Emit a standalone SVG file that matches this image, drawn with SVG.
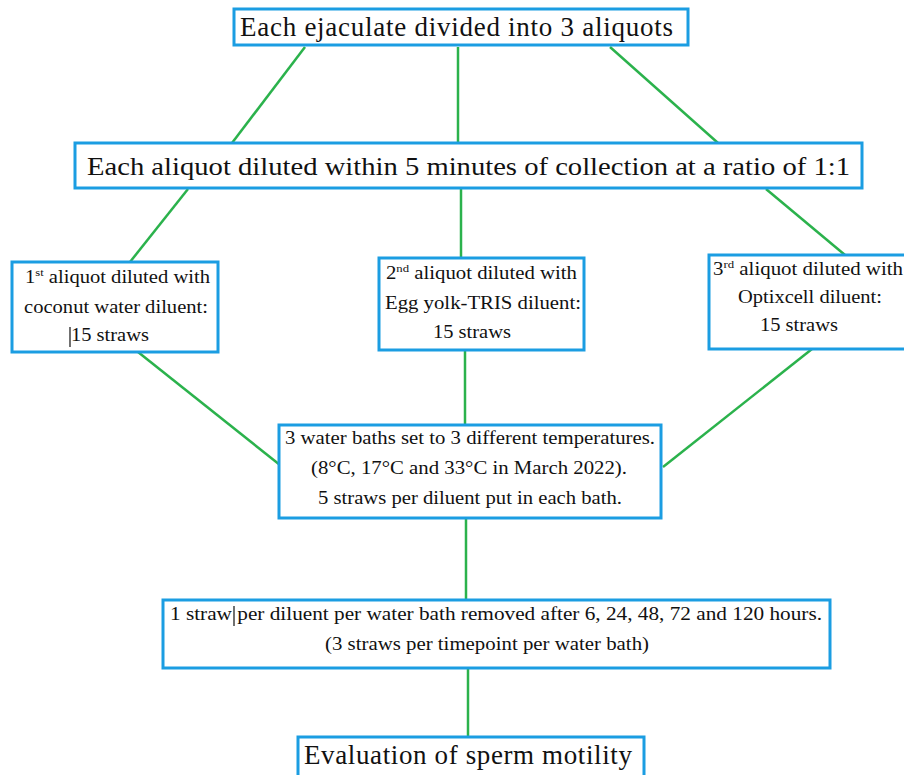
<svg xmlns="http://www.w3.org/2000/svg" width="904" height="775" viewBox="0 0 904 775">
<style>
.box{fill:#fff;stroke:#1b9de2;stroke-width:3}
.c{stroke:#2bb24c;stroke-width:2.5;fill:none}
text{fill:#111}
.s{font-size:18px}
.m{font-size:25px}
.l{font-size:27px}
.sup{font-size:11px}
.cur{stroke:#111;stroke-width:1.2}
</style>
<rect width="904" height="775" fill="#fff"/>
<g id="connectors">
<line class="c" x1="305" y1="47" x2="232" y2="143"/>
<line class="c" x1="458" y1="47" x2="458" y2="143"/>
<line class="c" x1="610" y1="47" x2="718" y2="143"/>
<line class="c" x1="188" y1="189" x2="130" y2="262"/>
<line class="c" x1="461" y1="189" x2="461" y2="258"/>
<line class="c" x1="766" y1="189" x2="845" y2="255"/>
<line class="c" x1="138" y1="352" x2="280" y2="465"/>
<line class="c" x1="465" y1="350" x2="465" y2="425"/>
<line class="c" x1="812" y1="349" x2="663" y2="467"/>
<line class="c" x1="466" y1="518" x2="466" y2="600"/>
<line class="c" x1="468" y1="668" x2="468" y2="737"/>
</g>
<g font-family="Liberation Serif, Times New Roman, serif">
<g id="n1">
<rect class="box" x="234" y="9" width="454" height="36"/>
<text class="l" x="240" y="36" textLength="433" lengthAdjust="spacing">Each ejaculate divided into 3 aliquots</text>
</g>
<g id="n2">
<rect class="box" x="75" y="143" width="787" height="45"/>
<text class="m" x="87" y="175" textLength="763" lengthAdjust="spacingAndGlyphs">Each aliquot diluted within 5 minutes of collection at a ratio of 1:1</text>
</g>
<g id="n3a">
<rect class="box" x="12" y="262" width="206" height="90"/>
<text class="s" x="25" y="283" textLength="185" lengthAdjust="spacingAndGlyphs">1<tspan class="sup" dy="-7">st</tspan><tspan dy="7"> aliquot diluted with</tspan></text>
<text class="s" x="24" y="313" textLength="184" lengthAdjust="spacingAndGlyphs">coconut water diluent:</text>
<line class="cur" x1="70" y1="327" x2="70" y2="347"/>
<text class="s" x="71" y="341" textLength="78" lengthAdjust="spacingAndGlyphs">15 straws</text>
</g>
<g id="n3b">
<rect class="box" x="379" y="258" width="205" height="92"/>
<text class="s" x="386" y="279" textLength="191" lengthAdjust="spacingAndGlyphs">2<tspan class="sup" dy="-7">nd</tspan><tspan dy="7"> aliquot diluted with</tspan></text>
<text class="s" x="385" y="309" textLength="196" lengthAdjust="spacingAndGlyphs">Egg yolk-TRIS diluent:</text>
<text class="s" x="433" y="338" textLength="78" lengthAdjust="spacingAndGlyphs">15 straws</text>
</g>
<g id="n3c">
<rect class="box" x="709" y="255" width="197" height="94"/>
<text class="s" x="713" y="275" textLength="190" lengthAdjust="spacingAndGlyphs">3<tspan class="sup" dy="-7">rd</tspan><tspan dy="7"> aliquot diluted with</tspan></text>
<text class="s" x="738" y="303" textLength="144" lengthAdjust="spacingAndGlyphs">Optixcell diluent:</text>
<text class="s" x="760" y="331" textLength="78" lengthAdjust="spacingAndGlyphs">15 straws</text>
</g>
<g id="n4">
<rect class="box" x="279" y="425" width="382" height="93"/>
<text class="s" x="285" y="444" textLength="370" lengthAdjust="spacingAndGlyphs">3 water baths set to 3 different temperatures.</text>
<text class="s" x="311" y="474" textLength="316" lengthAdjust="spacingAndGlyphs">(8°C, 17°C and 33°C in March 2022).</text>
<text class="s" x="318" y="504" textLength="304" lengthAdjust="spacingAndGlyphs">5 straws per diluent put in each bath.</text>
</g>
<g id="n5">
<rect class="box" x="163" y="600" width="667" height="68"/>
<text class="s" x="170" y="620" textLength="652" lengthAdjust="spacingAndGlyphs">1 straw per diluent per water bath removed after 6, 24, 48, 72 and 120 hours.</text>
<line class="cur" x1="234" y1="606" x2="234" y2="626"/>
<text class="s" x="325" y="650" textLength="324" lengthAdjust="spacingAndGlyphs">(3 straws per timepoint per water bath)</text>
</g>
<g id="n6">
<rect class="box" x="298" y="737" width="346" height="42"/>
<text class="l" x="304" y="764" textLength="328" lengthAdjust="spacing">Evaluation of sperm motility</text>
</g>
</g>
</svg>
